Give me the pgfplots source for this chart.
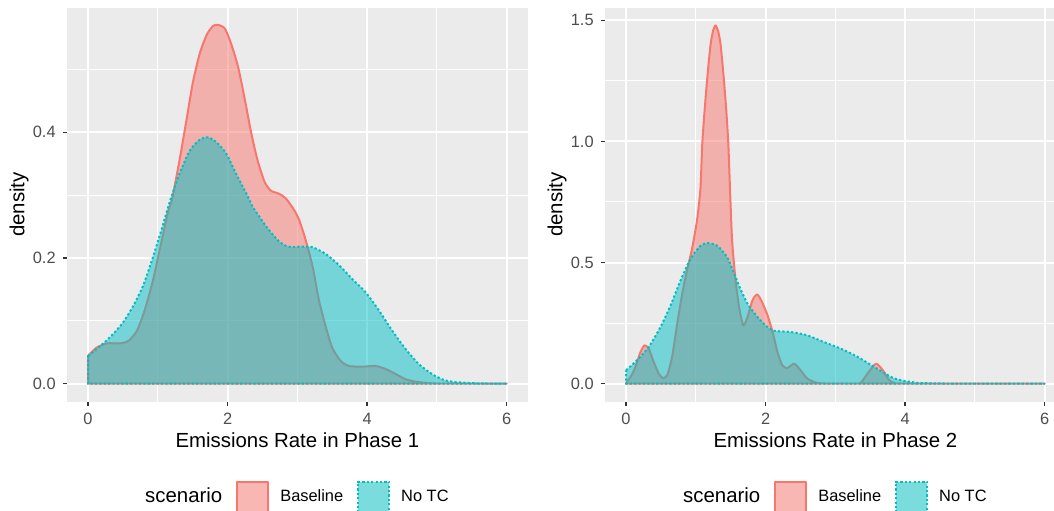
\documentclass[border=0pt]{standalone}
\usepackage{fontspec}
\setmainfont{Liberation Sans}
\usepackage{pgfplots}
\pgfplotsset{compat=1.18}

\definecolor{ggbg}{HTML}{EBEBEB}
\definecolor{ggkey}{HTML}{F2F2F2}
\definecolor{ggred}{HTML}{F8766D}
\definecolor{ggcyan}{HTML}{00BFC4}
\definecolor{ggtick}{HTML}{333333}
\definecolor{ggtext}{HTML}{4D4D4D}

\pgfplotsset{
  ggpanel/.style={
    scale only axis,
    width=230.3pt, height=197pt,
    anchor=south west,
    xmin=-0.3, xmax=6.3,
    axis background/.style={fill=ggbg},
    axis line style={draw=none},
    grid=both,
    major grid style={white, line width=1pt},
    minor grid style={white, line width=0.5pt},
    tick pos=left,
    tick align=outside,
    major tick length=2.2pt,
    minor tick length=0pt,
    tick style={ggtick, line width=0.7pt},
    xtick={0,2,4,6}, xticklabels={0,2,4,6},
    minor xtick={1,3,5},
    ticklabel style={font=\fontsize{8.2}{9}\selectfont, text=ggtext},
    label style={font=\fontsize{10.2}{12}\selectfont},
    ylabel=density,
    x label style={at={(axis description cs:0.5,-0.0977)}, anchor=center},
    y label style={at={(axis description cs:-0.104,0.5)}, anchor=center},
    legend style={at={(axis description cs:0.487,-0.2424)}, anchor=center,
      draw=none, fill=none, legend columns=-1,
      font=\fontsize{8.2}{9}\selectfont,
      /tikz/every odd column/.append style={column sep=5.5pt},
      /tikz/every even column/.append style={column sep=7pt},
      nodes={inner sep=0pt}},
    legend image code/.code={
      \fill[ggkey] (0pt,-7.75pt) rectangle (15.5pt,7.75pt);
      \draw[##1] (0pt,-7.75pt) rectangle (15.5pt,7.75pt);},
  },
  base/.style={draw=ggred, line width=1pt, line join=round, fill=ggred, fill opacity=0.5, smooth, tension=0.4},
  notc/.style={draw=ggcyan, line width=1pt, dash pattern=on 1.1pt off 1.1pt, fill=ggcyan, fill opacity=0.5, smooth, tension=0.4},
}

\begin{document}
\begin{tikzpicture}
\useasboundingbox (0,0) rectangle (527pt,255pt);

\begin{axis}[ggpanel, at={(33.55pt,54.25pt)},
  ymin=-0.0285, ymax=0.5985,
  ytick={0,0.2,0.4}, yticklabels={0.0,0.2,0.4},
  minor ytick={0.1,0.3,0.5},
  xlabel={Emissions Rate in Phase 1}]
\addlegendimage{empty legend}
\addplot[base] coordinates {(0,0.044) (0.12,0.057) (0.27,0.064) (0.46,0.064) (0.58,0.068) (0.70,0.084)
 (0.81,0.116) (0.93,0.164) (1.05,0.225) (1.15,0.275) (1.20,0.291) (1.31,0.355) (1.41,0.419)
 (1.50,0.478) (1.60,0.525) (1.70,0.555) (1.79,0.569) (1.86,0.571) (1.96,0.565) (2.05,0.541)
 (2.15,0.504) (2.24,0.456) (2.34,0.398) (2.43,0.355) (2.53,0.321) (2.62,0.307) (2.74,0.302)
 (2.84,0.294) (2.96,0.275) (3.03,0.259) (3.12,0.228) (3.22,0.185) (3.31,0.132) (3.41,0.089)
 (3.50,0.057) (3.62,0.036) (3.74,0.028) (3.93,0.027) (4.12,0.028) (4.27,0.023) (4.41,0.015)
 (4.55,0.007) (4.70,0.003) (4.93,0.0003) (5.2,0) (6,0)} \closedcycle;
\addplot[notc] coordinates {(0,0.044) (0.22,0.064) (0.36,0.079) (0.50,0.097) (0.65,0.124) (0.79,0.156)
 (0.93,0.201) (1.05,0.244) (1.17,0.289) (1.31,0.334) (1.46,0.371) (1.60,0.388) (1.72,0.392)
 (1.84,0.384) (1.98,0.366) (2.12,0.334) (2.27,0.302) (2.36,0.281) (2.44,0.268) (2.54,0.252)
 (2.64,0.238) (2.74,0.226) (2.84,0.219) (2.94,0.217) (3.03,0.218) (3.13,0.218) (3.22,0.217)
 (3.41,0.206) (3.60,0.188) (3.79,0.166) (3.98,0.145) (4.17,0.116) (4.36,0.084) (4.55,0.055)
 (4.74,0.031) (4.93,0.015) (5.12,0.005) (5.31,0.002) (5.6,0.0003) (6,0)} \closedcycle;
\legend{{\fontsize{10.2}{12}\selectfont scenario},Baseline,No TC}
\end{axis}

\begin{axis}[ggpanel, at={(302.55pt,54.25pt)},
  ymin=-0.074, ymax=1.553,
  ytick={0,0.5,1,1.5}, yticklabels={0.0,0.5,1.0,1.5},
  minor ytick={0.25,0.75,1.25},
  xlabel={Emissions Rate in Phase 2}]
\addlegendimage{empty legend}
\addplot[base] coordinates {(0,0.003) (0.07,0.03) (0.134,0.068) (0.2,0.125) (0.263,0.158) (0.325,0.144)
 (0.397,0.089) (0.469,0.041) (0.526,0.023) (0.589,0.034) (0.66,0.11) (0.733,0.247) (0.804,0.37)
 (0.876,0.47) (0.948,0.56) (1.02,0.68) (1.067,0.81) (1.092,0.988) (1.125,1.125) (1.164,1.262)
 (1.211,1.40) (1.25,1.46) (1.283,1.479) (1.32,1.455) (1.355,1.40) (1.40,1.262) (1.437,1.125)
 (1.466,0.988) (1.489,0.81) (1.52,0.59) (1.57,0.425) (1.62,0.315) (1.68,0.24) (1.74,0.274)
 (1.81,0.343) (1.88,0.368) (1.95,0.336) (2.03,0.28) (2.10,0.213) (2.17,0.13) (2.24,0.075)
 (2.31,0.064) (2.41,0.082) (2.50,0.055) (2.60,0.02) (2.74,0.003) (2.9,0) (3.3,0) (3.37,0.005)
 (3.46,0.041) (3.58,0.082) (3.68,0.055) (3.77,0.014) (3.85,0.002) (4,0) (6,0)} \closedcycle;
\addplot[notc] coordinates {(0,0.055) (0.158,0.096) (0.325,0.151) (0.493,0.233) (0.637,0.322) (0.78,0.425)
 (0.924,0.515) (1.067,0.569) (1.172,0.58) (1.307,0.569) (1.45,0.521) (1.57,0.439) (1.64,0.39)
 (1.74,0.33) (1.84,0.29) (1.93,0.26) (2.02,0.235) (2.12,0.218) (2.36,0.213) (2.60,0.199)
 (2.84,0.171) (3.08,0.144) (3.32,0.11) (3.56,0.068) (3.80,0.027) (3.94,0.014) (4.18,0.003)
 (4.5,0.0005) (5,0) (6,0)} \closedcycle;
\legend{{\fontsize{10.2}{12}\selectfont scenario},Baseline,No TC}
\end{axis}
\end{tikzpicture}
\end{document}
